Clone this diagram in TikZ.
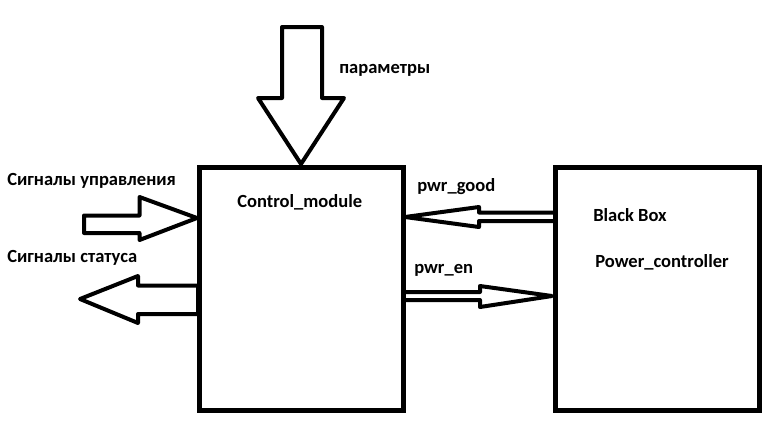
\documentclass[tikz,border=0pt]{standalone}
\usepackage{fontspec}
\setmainfont{Carlito}
\begin{document}
\begin{tikzpicture}[x=0.75pt,y=-0.75pt,
  box/.style={draw, line width=3.75pt, inner sep=0pt, minimum width=153pt, minimum height=182.25pt},
  blk/.style={draw, line width=3pt, line join=round},
  lbl/.style={anchor=base west, inner sep=0pt, font=\fontsize{13.9}{16}\selectfont\bfseries}]
\useasboundingbox[fill=white] (0,0) rectangle (777,429);
% boxes
\node[box] (cm) at (301.25,289) {};
\node[box] (pc) at (657,289) {};
% block arrows
\draw[blk] (282,27) -- (322,27) -- (322,98) -- (344,98) -- (301,164) -- (258,98) -- (282,98) -- cycle;
\draw[blk] (84,215.5) -- (139.5,215.5) -- (139.5,197) -- (197,218) -- (139.5,240) -- (139.5,233) -- (84,233) -- cycle;
\draw[blk] (80,299) -- (138,276) -- (138,285.5) -- (198,285.5) -- (198,314) -- (138,314) -- (138,323) -- cycle;
\draw[blk] (405,217) -- (479,207) -- (479,212.5) -- (555,212.5) -- (555,221) -- (479,221) -- (479,227) -- cycle;
\draw[blk] (403,292) -- (480,292) -- (480,286) -- (552,296) -- (480,307) -- (480,300) -- (403,300) -- cycle;
% labels
\node[lbl] (t1) at (237,207) {Control\_module};
\node[lbl] (t2) at (593,221) {Black Box};
\node[lbl] (t3) at (595,267) {Power\_controller};
\node[lbl] (t4) at (417,191) {pwr\_good};
\node[lbl] (t5) at (414,273) {pwr\_en};
\node[lbl] (t6) at (339,73) {параметры};
\node[lbl] (t7) at (7,185) {Сигналы управления};
\node[lbl] (t8) at (7,262) {Сигналы статуса};
\end{tikzpicture}
\end{document}
